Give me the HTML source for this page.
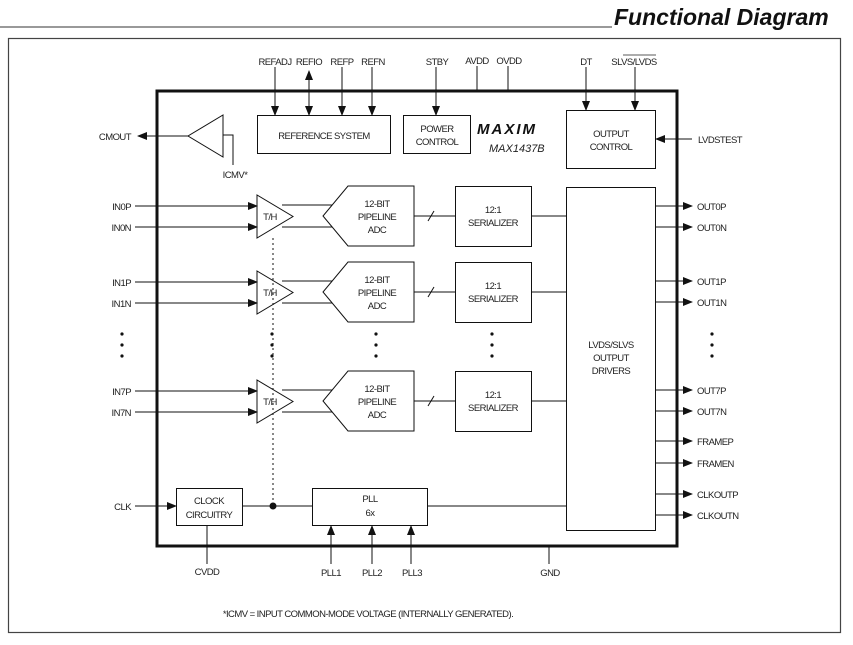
<!DOCTYPE html>
<html><head><meta charset="utf-8"><style>
html,body{margin:0;padding:0;background:#fff;}
svg{display:block;}
text{font-family:"Liberation Sans",sans-serif;font-size:9.5px;letter-spacing:-0.55px;fill:#222;}
</style></head><body>
<svg width="853" height="645" viewBox="0 0 853 645" xmlns="http://www.w3.org/2000/svg">
<defs>
<marker id="a" markerWidth="10" markerHeight="8" refX="9" refY="4" orient="auto" markerUnits="userSpaceOnUse"><path d="M0,0 L10,4 L0,8 Z" fill="#111"/></marker>
<marker id="s" markerWidth="10" markerHeight="8" refX="1" refY="4" orient="auto" markerUnits="userSpaceOnUse"><path d="M10,0 L0,4 L10,8 Z" fill="#111"/></marker>
</defs>
<line x1="0" y1="27" x2="612" y2="27" stroke="#333" stroke-width="1"/>
<text x="614" y="25" style="font-size:23px;letter-spacing:0;font-weight:bold;font-style:italic;fill:#111">Functional Diagram</text>
<rect x="8.5" y="38.5" width="832" height="594" fill="none" stroke="#444" stroke-width="1.2"/>
<g stroke="#111" fill="none" stroke-width="1">
<rect x="157" y="91" width="520" height="455" stroke-width="3"/>
<rect x="257.5" y="115.5" width="133" height="38"/>
<rect x="403.5" y="115.5" width="67" height="38"/>
<rect x="566.5" y="110.5" width="89" height="58"/>
<rect x="566.5" y="187.5" width="89" height="343"/>
<rect x="176.5" y="488.5" width="66" height="37"/>
<rect x="312.5" y="488.5" width="115" height="37"/>
<path d="M223,115 L223,157 L188,136 Z"/>
<path d="M223,135 L233,135 L233,165"/>
<line x1="188" y1="136" x2="138" y2="136" marker-end="url(#a)"/>
<line x1="275" y1="67" x2="275" y2="115" marker-end="url(#a)"/>
<line x1="309" y1="71" x2="309" y2="115" marker-start="url(#s)" marker-end="url(#a)"/>
<line x1="342" y1="67" x2="342" y2="115" marker-end="url(#a)"/>
<line x1="372" y1="67" x2="372" y2="115" marker-end="url(#a)"/>
<line x1="436" y1="67" x2="436" y2="115" marker-end="url(#a)"/>
<line x1="477" y1="66" x2="477" y2="91"/>
<line x1="508" y1="66" x2="508" y2="91"/>
<line x1="586" y1="67" x2="586" y2="110" marker-end="url(#a)"/>
<line x1="635" y1="67" x2="635" y2="110" marker-end="url(#a)"/>
<line x1="692" y1="139" x2="656" y2="139" marker-end="url(#a)"/>
<line x1="273" y1="238" x2="273" y2="506" stroke-dasharray="2,3"/>
<g id="ch">
<line x1="135" y1="206" x2="257" y2="206" marker-end="url(#a)"/>
<line x1="135" y1="227" x2="257" y2="227" marker-end="url(#a)"/>
<path d="M257,195 L257,238 L293,216.5 Z"/>
<line x1="282" y1="205" x2="332" y2="205"/>
<line x1="282" y1="227" x2="332" y2="227"/>
<path d="M348,186 L414,186 L414,246 L348,246 L323,216 Z"/>
<line x1="414" y1="216" x2="455" y2="216"/>
<line x1="428" y1="221" x2="434" y2="211"/>
<rect x="455.5" y="186.5" width="76" height="60"/>
<line x1="531" y1="216" x2="566" y2="216"/>
</g>
<use href="#ch" y="76"/>
<use href="#ch" y="185"/>
<line x1="655" y1="206" x2="692" y2="206" marker-end="url(#a)"/>
<line x1="655" y1="227" x2="692" y2="227" marker-end="url(#a)"/>
<line x1="655" y1="281" x2="692" y2="281" marker-end="url(#a)"/>
<line x1="655" y1="302" x2="692" y2="302" marker-end="url(#a)"/>
<line x1="655" y1="390" x2="692" y2="390" marker-end="url(#a)"/>
<line x1="655" y1="411" x2="692" y2="411" marker-end="url(#a)"/>
<line x1="655" y1="441" x2="692" y2="441" marker-end="url(#a)"/>
<line x1="655" y1="463" x2="692" y2="463" marker-end="url(#a)"/>
<line x1="655" y1="494" x2="692" y2="494" marker-end="url(#a)"/>
<line x1="655" y1="515" x2="692" y2="515" marker-end="url(#a)"/>
<line x1="135" y1="506" x2="176" y2="506" marker-end="url(#a)"/>
<line x1="242" y1="506" x2="312" y2="506"/>
<line x1="427" y1="506" x2="566" y2="506"/>
<line x1="207" y1="525" x2="207" y2="564"/>
<line x1="331" y1="564" x2="331" y2="526" marker-end="url(#a)"/>
<line x1="372" y1="564" x2="372" y2="526" marker-end="url(#a)"/>
<line x1="411" y1="564" x2="411" y2="526" marker-end="url(#a)"/>
<line x1="549" y1="546" x2="549" y2="564"/>
</g>
<circle cx="273" cy="506" r="3.5" fill="#111"/>
<g fill="#111">
<circle cx="122" cy="334" r="1.6"/><circle cx="122" cy="345" r="1.6"/><circle cx="122" cy="356" r="1.6"/>
<circle cx="272" cy="334" r="1.6"/><circle cx="272" cy="345" r="1.6"/><circle cx="272" cy="356" r="1.6"/>
<circle cx="376" cy="334" r="1.6"/><circle cx="376" cy="345" r="1.6"/><circle cx="376" cy="356" r="1.6"/>
<circle cx="492" cy="334" r="1.6"/><circle cx="492" cy="345" r="1.6"/><circle cx="492" cy="356" r="1.6"/>
<circle cx="712" cy="334" r="1.6"/><circle cx="712" cy="345" r="1.6"/><circle cx="712" cy="356" r="1.6"/>
</g>
<g text-anchor="middle">
<text x="275" y="65">REFADJ</text><text x="309" y="65">REFIO</text><text x="342" y="65">REFP</text><text x="373" y="65">REFN</text>
<text x="437" y="65">STBY</text><text x="477" y="64">AVDD</text><text x="509" y="64">OVDD</text>
<text x="586" y="65">DT</text><text x="634" y="65">SLVS/LVDS</text>
<text x="324" y="139">REFERENCE SYSTEM</text>
<text x="437" y="132">POWER</text><text x="437" y="145">CONTROL</text>
<text x="611" y="137">OUTPUT</text><text x="611" y="150">CONTROL</text>
<text x="235" y="178">ICMV*</text>
<text x="611" y="348">LVDS/SLVS</text><text x="611" y="361">OUTPUT</text><text x="611" y="374">DRIVERS</text>
<text x="209" y="504">CLOCK</text><text x="209" y="518">CIRCUITRY</text>
<text x="370" y="502">PLL</text><text x="370" y="516">6x</text>
<text x="207" y="575">CVDD</text><text x="331" y="576">PLL1</text><text x="372" y="576">PLL2</text><text x="412" y="576">PLL3</text><text x="550" y="576">GND</text>
<text x="368" y="617">*ICMV = INPUT COMMON-MODE VOLTAGE (INTERNALLY GENERATED).</text>
</g>
<line x1="623" y1="55" x2="656" y2="55" stroke="#222" stroke-width="0.8"/>
<g id="lab" text-anchor="middle">
<text x="270" y="220">T/H</text>
<text x="377" y="207">12-BIT</text><text x="377" y="220">PIPELINE</text><text x="377" y="233">ADC</text>
<text x="493" y="213">12:1</text><text x="493" y="226">SERIALIZER</text>
</g>
<use href="#lab" y="76"/><use href="#lab" y="185"/>
<g text-anchor="end">
<text x="131" y="140">CMOUT</text>
<text x="131" y="210">IN0P</text><text x="131" y="231">IN0N</text>
<text x="131" y="286">IN1P</text><text x="131" y="307">IN1N</text>
<text x="131" y="395">IN7P</text><text x="131" y="416">IN7N</text>
<text x="131" y="510">CLK</text>
</g>
<text x="698" y="143">LVDSTEST</text>
<text x="697" y="210">OUT0P</text><text x="697" y="231">OUT0N</text>
<text x="697" y="285">OUT1P</text><text x="697" y="306">OUT1N</text>
<text x="697" y="394">OUT7P</text><text x="697" y="415">OUT7N</text>
<text x="697" y="445">FRAMEP</text><text x="697" y="467">FRAMEN</text>
<text x="697" y="498">CLKOUTP</text><text x="697" y="519">CLKOUTN</text>
<text x="477" y="134" style="font-size:15px;font-weight:900;font-style:italic;fill:#111;letter-spacing:2px">MAXIM</text>
<text x="489" y="152" style="font-size:11px;letter-spacing:0;font-style:italic">MAX1437B</text>
</svg>
</body></html>
